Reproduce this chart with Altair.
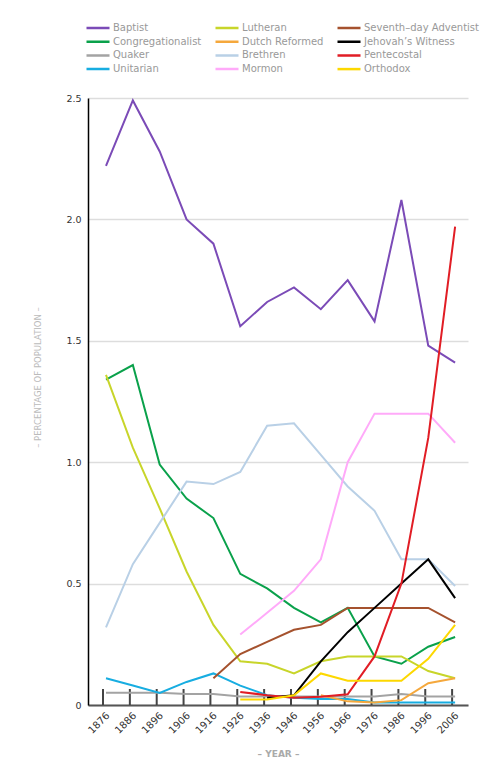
import altair as alt
import pandas as pd

years = [1876, 1886, 1896, 1906, 1916, 1926, 1936, 1946, 1956, 1966, 1976, 1986, 1996, 2006]

# legend order (filled column by column, 4 rows x 3 columns)
religions = ["Baptist", "Congregationalist", "Quaker", "Unitarian",
             "Lutheran", "Dutch Reformed", "Brethren", "Mormon",
             "Seventh\u2013day Adventist", "Jehovah\u2019s Witness", "Pentecostal", "Orthodox"]
colors = ["#7b4bb7", "#0aa14b", "#a3a3a3", "#17ade1",
          "#c8d52a", "#f5a83c", "#b9d0e6", "#ffaaf9",
          "#a5522e", "#000000", "#e11d25", "#fdd800"]

N = None
baptist = [2.22, 2.49, 2.28, 2.00, 1.90, 1.56, 1.66, 1.72, 1.63, 1.75, 1.58, 2.08, 1.48, 1.41]
congregationalist = [1.34, 1.40, 0.99, 0.85, 0.77, 0.54, 0.48, 0.40, 0.34, 0.40, 0.20, 0.17, 0.24, 0.28]
quaker = [0.05, 0.05, 0.05, 0.045, 0.045, 0.035, 0.035, 0.035, 0.035, 0.035, 0.035, 0.045, 0.035, 0.035]
unitarian = [0.11, 0.08, 0.05, 0.095, 0.13, 0.08, 0.04, 0.03, 0.025, 0.025, 0.01, 0.01, 0.01, 0.01]
lutheran = [1.36, 1.06, 0.81, 0.55, 0.33, 0.18, 0.17, 0.13, 0.18, 0.20, 0.20, 0.20, 0.14, 0.11]
dutch_reformed = [N, N, N, N, N, N, N, N, 0.04, 0.015, 0.01, 0.02, 0.09, 0.11]
brethren = [0.32, 0.58, 0.75, 0.92, 0.91, 0.96, 1.15, 1.16, 1.03, 0.90, 0.80, 0.60, 0.60, 0.49]
mormon = [N, N, N, N, N, 0.29, 0.38, 0.47, 0.60, 1.00, 1.20, 1.20, 1.20, 1.08]
adventist = [N, N, N, N, 0.11, 0.21, 0.26, 0.31, 0.33, 0.40, 0.40, 0.40, 0.40, 0.34]
jehovah = [N, N, N, N, N, N, 0.03, 0.04, 0.18, 0.30, 0.40, 0.50, 0.60, 0.44]
pentecostal = [N, N, N, N, N, 0.054, 0.04, 0.03, 0.034, 0.044, 0.20, 0.50, 1.10, 1.97]
orthodox = [N, N, N, N, N, 0.023, 0.023, 0.04, 0.13, 0.10, 0.10, 0.10, 0.19, 0.33]

series = {
    "Baptist": baptist,
    "Congregationalist": congregationalist,
    "Quaker": quaker,
    "Unitarian": unitarian,
    "Lutheran": lutheran,
    "Dutch Reformed": dutch_reformed,
    "Brethren": brethren,
    "Mormon": mormon,
    "Seventh\u2013day Adventist": adventist,
    "Jehovah\u2019s Witness": jehovah,
    "Pentecostal": pentecostal,
    "Orthodox": orthodox,
}

rows = []
for name, vals in series.items():
    for y, v in zip(years, vals):
        if v is not None:
            rows.append({"year": y, "value": v, "religion": name})
df = pd.DataFrame(rows)
ticks_df = pd.DataFrame({"year": years})

W, H = 380, 607
FONT = "DejaVu Sans"

xscale = alt.Scale(domain=[1869.3, 2010.8], nice=False, zero=False)
xaxis = alt.Axis(values=years, format="d", labelAngle=-45,
                 labelOverlap=False, labelFont=FONT,
                 labelFontSize=10, labelColor="#333", labelPadding=5,
                 labelOffset=-2, ticks=False, grid=False,
                 domainColor="#555", domainWidth=2,
                 title="\u2013 YEAR \u2013", titleColor="#aaa",
                 titleFont=FONT, titleFontSize=9, titleFontWeight="bold",
                 titleX=190, titleY=48, titleAlign="center",
                 titleBaseline="middle")

lines = alt.Chart(df).mark_line(strokeWidth=2).encode(
    x=alt.X("year:Q", scale=xscale, axis=xaxis),
    y=alt.Y("value:Q", scale=alt.Scale(domain=[0, 2.5], nice=False),
            axis=alt.Axis(values=[0, 0.5, 1.0, 1.5, 2.0, 2.5],
                          labelExpr="datum.value == 0 ? '0' : format(datum.value, '.1f')",
                          labelFont=FONT,
                          labelFontSize=9.5, labelColor="#333", labelPadding=7,
                          ticks=False, domainColor="#000", domainWidth=1.5,
                          gridColor="#dddddd", gridWidth=1.5,
                          title="\u2013 PERCENTAGE OF POPULATION \u2013",
                          titleFont=FONT, titleColor="#bbb", titleFontSize=8.5,
                          titleFontWeight="normal", titleAngle=-90,
                          titleX=-51, titleY=279, titleAlign="center",
                          titleBaseline="middle")),
    color=alt.Color("religion:N",
                    scale=alt.Scale(domain=religions, range=colors),
                    sort=religions,
                    legend=alt.Legend(title=None, orient="none", legendX=-3,
                                      legendY=-76, columns=3,
                                      symbolType="stroke", symbolSize=529,
                                      symbolStrokeWidth=2.5, clipHeight=12,
                                      rowPadding=1.7, columnPadding=12,
                                      labelFontSize=10, labelColor="#999",
                                      labelOffset=2, labelFont=FONT)),
    detail="religion:N",
)

tick_marks = alt.Chart(ticks_df).mark_rule(color="#444", strokeWidth=2, xOffset=-3).encode(
    x=alt.X("year:Q", scale=xscale, axis=xaxis),
    y=alt.value(H - 16),
    y2=alt.value(H),
)

chart = alt.layer(tick_marks, lines).properties(
    width=W, height=H,
    autosize=alt.AutoSizeParams(type="none"),
    padding={"left": 80, "top": 90, "right": 20, "bottom": 60},
).configure(font=FONT).configure_view(strokeWidth=0)

chart.save("out.html", embed_options={"renderer": "svg", "actions": False})
